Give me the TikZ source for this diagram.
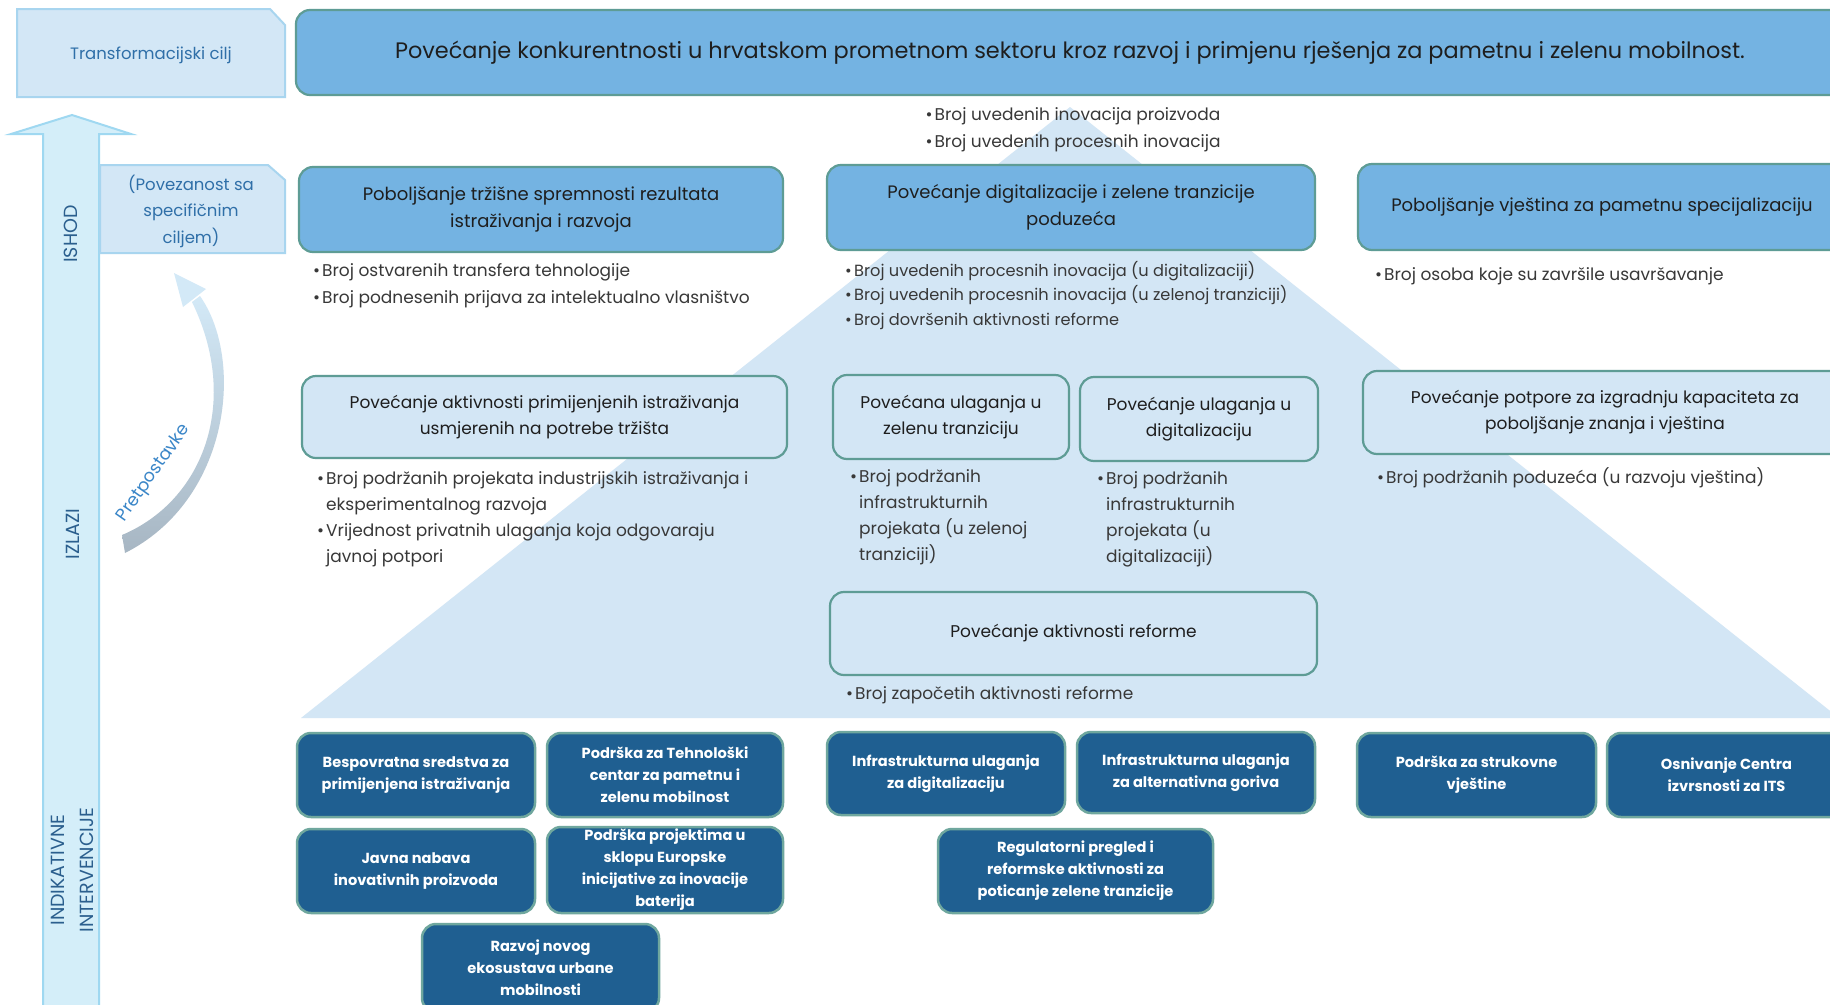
\documentclass[tikz,border=0pt]{standalone}
\usepackage{fontspec}
\setmainfont{Poppins}
\definecolor{midblue}{HTML}{74B3E2}
\definecolor{bordteal}{HTML}{5E9C95}
\definecolor{lightfill}{HTML}{D3E6F5}
\definecolor{leftfill}{HTML}{D3E7F6}
\definecolor{leftborder}{HTML}{A8D5EF}
\definecolor{arrowfill}{HTML}{D4EEF9}
\definecolor{arrowborder}{HTML}{9FD8F1}
\definecolor{darkbox}{HTML}{1F5F91}
\definecolor{darkborder}{HTML}{6FA79E}
\definecolor{labelblue}{HTML}{2B5F8E}
\definecolor{lefttext}{HTML}{2F6FA8}
\definecolor{bultext}{HTML}{383838}
\definecolor{boxtext}{HTML}{1E1E1E}
\definecolor{pretblue}{HTML}{3A86C8}
\definecolor{pretgray}{HTML}{A7B6C3}
\definecolor{pretlight}{HTML}{D3E9F7}
\newcommand{\bitem}[1]{\makebox[9pt][l]{•}#1}
\newcommand{\bcont}[1]{\hspace*{9pt}#1}
\tikzset{
  outbox/.style={draw=bordteal, line width=2.2pt, fill=midblue, rounded corners=14pt, text=boxtext, align=center, inner sep=0pt, font=\fontsize{18}{26.5}\selectfont},
  midbox/.style={outbox, fill=lightfill, font=\fontsize{17}{26}\selectfont},
  intbox/.style={draw=darkborder, line width=2.5pt, fill=darkbox, rounded corners=14pt, text=white, align=center, inner sep=0pt, font=\bfseries\fontsize{14.6}{22}\selectfont},
  bullets/.style={anchor=north west, align=left, inner sep=0pt, text=bultext, font=\fontsize{17}{26}\selectfont},
  sidelabel/.style={rotate=90, text=labelblue, align=center, inner sep=0pt, font=\fontsize{19}{29}\selectfont},
  lefttxt/.style={text=lefttext, align=center, inner sep=0pt, font=\fontsize{16.5}{26.5}\selectfont},
}
\begin{document}
\begin{tikzpicture}[x=1pt,y=-1pt]
\clip (0,0) rectangle (1830,1004);
\fill[white] (0,0) rectangle (1830,1004);
% pyramid background
\fill[lightfill] (301,718) -- (1070,107) -- (1839,718) -- cycle;
% big up arrow
\draw[fill=arrowfill, draw=arrowborder, line width=2pt] (43,1010) -- (43,134) -- (11,134) -- (72,115) -- (131,134) -- (99,134) -- (99,1010) -- cycle;
% left label boxes
\draw[fill=leftfill, draw=leftborder, line width=2pt] (17,97) -- (17,9) -- (270,9) -- (285,25) -- (285,97) -- cycle;
\draw[fill=leftfill, draw=leftborder, line width=2pt] (100,253) -- (100,165) -- (268,165) -- (285,180) -- (285,253) -- cycle;
\node[lefttxt] (tcil) at (151,55) {Transformacijski cilj};
\node[lefttxt] (pov) at (191,211) {(Povezanost sa\\specifičnim\\ciljem)};
% side labels
\node[sidelabel] (ishod) at (71,234) {ISHOD};
\node[sidelabel] (izlazi) at (73,534) {IZLAZI};
\node[sidelabel] (indint) at (72,870) {INDIKATIVNE\\INTERVENCIJE};
% curved assumptions arrow
\shade[top color=pretlight, middle color=pretlight, bottom color=pretgray] (200,296) .. controls (245,360) and (230,500) .. (125,553) -- (122,535) .. controls (205,500) and (240,400) .. (192,302) -- cycle;
\fill[pretlight] (174,273) -- (206,289) -- (183,307) -- cycle;
\node[rotate=55, text=pretblue, inner sep=0pt, font=\fontsize{17.5}{20}\selectfont] (pret) at (154,473) {Pretpostavke};
% goal
\node[outbox, minimum width=1548pt, minimum height=85pt, font=\fontsize{22.4}{27}\selectfont] (title) at (1070,52.5) {Povećanje konkurentnosti u hrvatskom prometnom sektoru kroz razvoj i primjenu rješenja za pametnu i zelenu mobilnost.};
% outcome boxes
\node[outbox, minimum width=484pt, minimum height=85pt] (A) at (541,209.5) {Poboljšanje tržišne spremnosti rezultata\\istraživanja i razvoja};
\node[outbox, minimum width=488pt, minimum height=85pt] (B) at (1071,207.5) {Povećanje digitalizacije i zelene tranzicije\\poduzeća};
\node[outbox, minimum width=488pt, minimum height=86pt] (C) at (1602,207) {Poboljšanje vještina za pametnu specijalizaciju};
% output boxes
\node[midbox, minimum width=485pt, minimum height=82pt] (D) at (544.5,417) {Povećanje aktivnosti primijenjenih istraživanja\\usmjerenih na potrebe tržišta};
\node[midbox, minimum width=236pt, minimum height=84pt] (E) at (951,417) {Povećana ulaganja u\\zelenu tranziciju};
\node[midbox, minimum width=238pt, minimum height=84pt] (F) at (1199,419) {Povećanje ulaganja u\\digitalizaciju};
\node[midbox, minimum width=487pt, minimum height=83pt] (G) at (1073.5,633.5) {Povećanje aktivnosti reforme};
\node[midbox, minimum width=484pt, minimum height=83pt] (H) at (1605,412.5) {Povećanje potpore za izgradnju kapaciteta za\\poboljšanje znanja i vještina};
% indicators
\node[bullets, anchor=center, align=center, font=\fontsize{17}{27}\selectfont] (ltop) at (1073,130) {\bitem{Broj uvedenih inovacija proizvoda}\\\bitem{Broj uvedenih procesnih inovacija}};
\node[bullets, font=\fontsize{17}{27}\selectfont] (lA) at (313,263) {\bitem{Broj ostvarenih transfera tehnologije}\\\bitem{Broj podnesenih prijava za intelektualno vlasništvo}};
\node[bullets, font=\fontsize{16.2}{24.5}\selectfont] (lB) at (845,261) {\bitem{Broj uvedenih procesnih inovacija (u digitalizaciji)}\\\bitem{Broj uvedenih procesnih inovacija (u zelenoj tranziciji)}\\\bitem{Broj dovršenih aktivnosti reforme}};
\node[bullets] (lC) at (1375,267) {\bitem{Broj osoba koje su završile usavršavanje}};
\node[bullets] (lD) at (317,471) {\bitem{Broj podržanih projekata industrijskih istraživanja i}\\\bcont{eksperimentalnog razvoja}\\\bitem{Vrijednost privatnih ulaganja koja odgovaraju}\\\bcont{javnoj potpori}};
\node[bullets] (lE) at (850,469) {\bitem{Broj podržanih}\\\bcont{infrastrukturnih}\\\bcont{projekata (u zelenoj}\\\bcont{tranziciji)}};
\node[bullets] (lF) at (1097,471) {\bitem{Broj podržanih}\\\bcont{infrastrukturnih}\\\bcont{projekata (u}\\\bcont{digitalizaciji)}};
\node[bullets] (lG) at (846,686) {\bitem{Broj započetih aktivnosti reforme}};
\node[bullets] (lH) at (1377,467) {\bitem{Broj podržanih poduzeća (u razvoju vještina)}};
% interventions
\node[intbox, minimum width=238pt, minimum height=84pt] (I1) at (416,775) {Bespovratna sredstva za\\primijenjena istraživanja};
\node[intbox, minimum width=236pt, minimum height=84pt] (I2) at (665,775) {Podrška za Tehnološki\\centar za pametnu i\\zelenu mobilnost};
\node[intbox, minimum width=238pt, minimum height=84pt] (I3) at (416,871) {Javna nabava\\inovativnih proizvoda};
\node[intbox, minimum width=236pt, minimum height=86pt] (I4) at (665,870) {Podrška projektima u\\sklopu Europske\\inicijative za inovacije\\baterija};
\node[intbox, minimum width=237pt, minimum height=88pt] (I5) at (540.5,968) {Razvoj novog\\ekosustava urbane\\mobilnosti};
\node[intbox, minimum width=238pt, minimum height=83pt] (I6) at (946,773.5) {Infrastrukturna ulaganja\\za digitalizaciju};
\node[intbox, minimum width=238pt, minimum height=81pt] (I7) at (1196,772.5) {Infrastrukturna ulaganja\\za alternativna goriva};
\node[intbox, minimum width=275pt, minimum height=84pt] (I8) at (1075.5,871) {Regulatorni pregled i\\reformske aktivnosti za\\poticanje zelene tranzicije};
\node[intbox, minimum width=239pt, minimum height=84pt] (I9) at (1476.5,775) {Podrška za strukovne\\vještine};
\node[intbox, minimum width=239pt, minimum height=84pt] (I10) at (1726.5,775) {Osnivanje Centra\\izvrsnosti za ITS};
\end{tikzpicture}
\end{document}
